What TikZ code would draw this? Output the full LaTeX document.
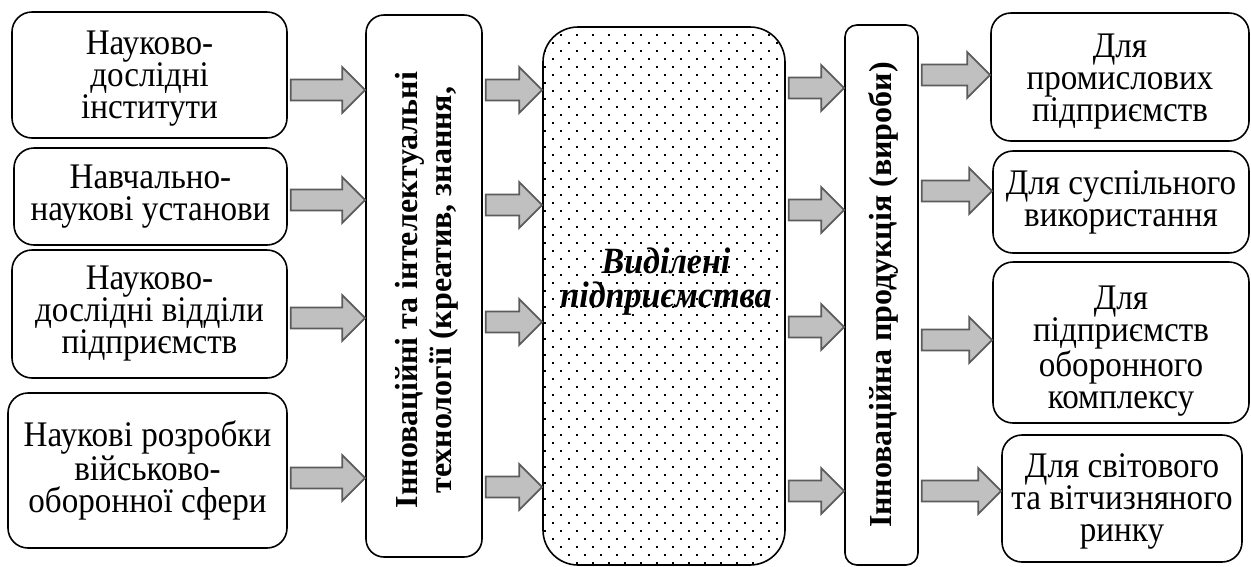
\documentclass[tikz,border=0pt]{standalone}
\usepackage{fontspec}
\setmainfont{Liberation Serif}
\newfontfamily\tallfont{Liberation Serif}[FakeStretch=0.92]
\usetikzlibrary{calc}
\definecolor{arrfill}{HTML}{C0C0C0}
\definecolor{arrline}{HTML}{5C5C5C}
\begin{document}
\begin{tikzpicture}[x=1pt,y=-1pt,
  box/.style={draw, line width=1.6pt, rounded corners=20pt, align=center, inner sep=0pt, font=\tallfont\fontsize{36}{32}\selectfont},
  txt/.style={align=center, inner sep=0pt},
  btxt/.style={align=center, inner sep=0pt, font=\tallfont\fontsize{36}{32}\selectfont},
  blockarr/.style={draw=arrline, fill=arrfill, line width=1.8pt, line join=miter,
    to path={let \p1=(\tikztostart), \p2=(\tikztotarget) in
      (\x1+3pt,\y1+10.5pt) -- (\x2-23pt,\y1+10.5pt) -- (\x2-23pt,\y1+23pt) -- (\x2,\y1) -- (\x2-23pt,\y1-23pt) -- (\x2-23pt,\y1-10.5pt) -- (\x1+3pt,\y1-10.5pt) -- cycle}}
]
\useasboundingbox (0,0) rectangle (1251,566);

% dotted fill of the central box
\begin{scope}
\clip[rounded corners=35pt] (543,27) rectangle (785,565);
\foreach \r in {3,...,70}{
  \pgfmathsetmacro\off{1+8*mod(\r,2)}
  \foreach \k in {33,...,49}{
    \fill (\off+16*\k-0.8, 3+8*\r-0.8) rectangle ++(1.6,1.6);
  }
}
\end{scope}

% left boxes
\node[box, minimum width=275pt, minimum height=126pt] (L1) at (149.5,75) {};
\node[btxt] (L1t) at (149.5,79) {Науково-\\дослідні\\інститути};
\node[box, minimum width=273pt, minimum height=97pt] (L2) at (150.5,196.5) {Навчально-\\наукові установи};
\node[box, minimum width=275pt, minimum height=128pt] (L3) at (149.5,314) {Науково-\\дослідні відділи\\підприємств};
\node[box, minimum width=279pt, minimum height=155pt] (L4) at (147.5,470.5) {Наукові розробки\\військово-\\оборонної сфери};

% vertical boxes
\node[box, rounded corners=18pt, minimum width=116pt, minimum height=542pt] (V1) at (424,286) {};
\node[txt, rotate=90, font=\fontsize{32}{34}\selectfont\bfseries] (V1t) at (427,290) {Інноваційні та інтелектуальні\\технології (креатив, знання,};

\node[box, rounded corners=35pt, minimum width=242pt, minimum height=538pt] (C) at (664,296) {};
\node[txt, font=\tallfont\fontsize{37}{34}\selectfont\bfseries\itshape] (Ct) at (666,282) {Виділені\\підприємства};

\node[box, rounded corners=12pt, minimum width=73pt, minimum height=540pt] (V2) at (881.5,295) {};
\node[txt, rotate=90, font=\fontsize{32}{34}\selectfont\bfseries] (V2t) at (883,295) {Інноваційна продукція (вироби)};

% right boxes
\node[box, minimum width=258pt, minimum height=128pt] (R1) at (1120,77) {};
\node[btxt] (R1t) at (1120,82) {Для\\промислових\\підприємств};
\node[box, minimum width=256pt, minimum height=102pt] (R2) at (1121,202) {Для суспільного\\використання};
\node[box, minimum width=256pt, minimum height=161pt] (R3) at (1121,342.5) {};
\node[btxt] (R3t) at (1121,351) {Для\\підприємств\\оборонного\\комплексу};
\node[box, minimum width=240pt, minimum height=127pt] (R4) at (1122,498.5) {};
\node[btxt] (R4t) at (1122,501) {Для світового\\та вітчизняного\\ринку};

% arrows: left boxes -> V1
\draw[blockarr] (L1.east |- 0,90) to (V1.west |- 0,90);
\draw[blockarr] (L2.east |- 0,200) to (V1.west |- 0,200);
\draw[blockarr] (L3.east |- 0,318) to (V1.west |- 0,318);
\draw[blockarr] (L4.east |- 0,478) to (V1.west |- 0,478);
% V1 -> C
\draw[blockarr] (V1.east |- 0,90) to (C.west |- 0,90);
\draw[blockarr] (V1.east |- 0,205) to (C.west |- 0,205);
\draw[blockarr] (V1.east |- 0,322) to (C.west |- 0,322);
\draw[blockarr] (V1.east |- 0,487) to (C.west |- 0,487);
% C -> V2
\draw[blockarr] (C.east |- 0,88) to (V2.west |- 0,88);
\draw[blockarr] (C.east |- 0,210) to (V2.west |- 0,210);
\draw[blockarr] (C.east |- 0,327) to (V2.west |- 0,327);
\draw[blockarr] (C.east |- 0,491) to (V2.west |- 0,491);
% V2 -> right boxes
\draw[blockarr] (V2.east |- 0,75) to (R1.west |- 0,75);
\draw[blockarr] (V2.east |- 0,191) to (R2.west |- 0,191);
\draw[blockarr] (V2.east |- 0,340) to (R3.west |- 0,340);
\draw[blockarr] (V2.east |- 0,491) to (R4.west |- 0,491);
\end{tikzpicture}
\end{document}
